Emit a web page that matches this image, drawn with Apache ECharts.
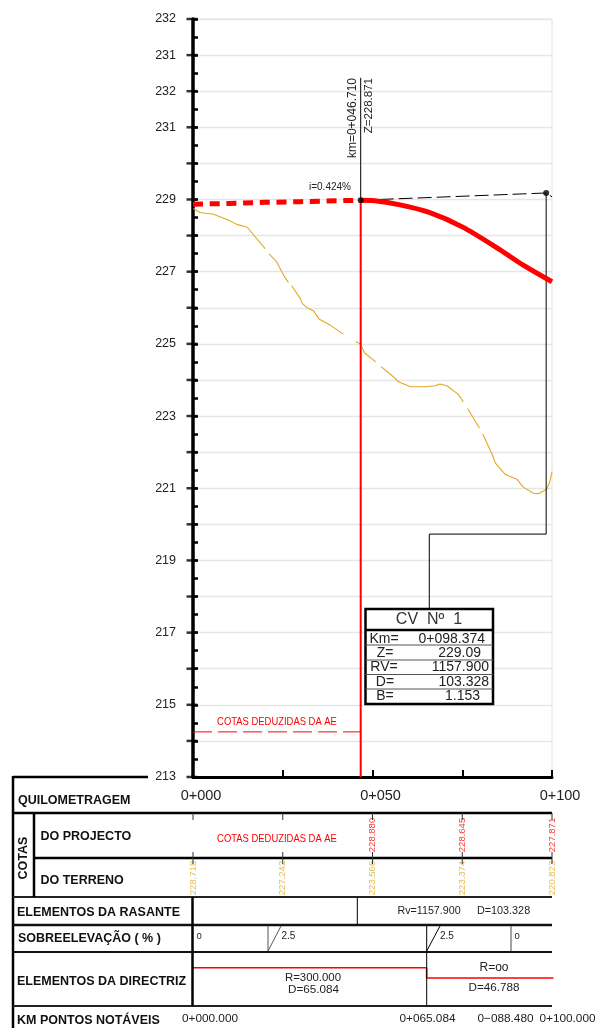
<!DOCTYPE html>
<html><head><meta charset="utf-8">
<style>html,body{margin:0;padding:0;background:#fff}#c{width:595px;height:1028px}</style>
<script src="https://cdn.jsdelivr.net/npm/echarts@6/dist/echarts.min.js"></script>
</head><body><div id="c"></div>
<script>
// ---- data ----
const yTickValues = [213,215,217,219,221,223,225,227,229,231,232,233,234];
const yTickLabels = ['213','215','217','219','221','223','225','227','229','231','232','231','232'];
const yMajorTicks = [213,214,215,216,217,218,219,220,221,222,223,224,225,226,227,228,229,230,231,232,233,234];
const kmTicks = [0,25,50,75,100];
const kmTickLabels = ['0+000','','0+050','','0+100'];
const tangentBefore = [[0,228.87],[10,228.89],[20,228.92],[30,228.94],[46.71,228.98]];
const verticalCurve = [[46.71,228.98],[50,228.97],[57.7,228.85],[65.8,228.64],[75,228.24],[85,227.64],[92,227.18],[100,226.72]];
const tangentExtended = [[46.71,228.98],[98.374,229.18],[100,229.07]];
const terrain = [[0.1,228.75],[1.9,228.64],[5.7,228.59],[9.8,228.43],[12.2,228.31],[15.1,228.23],[20.1,227.64],null,
 [21.2,227.49],[23.3,227.27],[25.6,226.84],[26.6,226.7],null,
 [27.5,226.61],[30,226.24],[30.4,226.12],[31.7,226.01],[33.5,225.92],[35.2,225.68],[38.2,225.52],[41.9,225.27],null,
 [45.3,225.06],[46.5,225.01],[47.9,224.74],[50.9,224.5],null,
 [52.4,224.37],[55.8,224.09],[57.2,223.95],[60.6,223.81],[64.6,223.81],[67.4,223.84],[68.8,223.89],[70.7,223.84],[73.9,223.6],[75.3,223.39],null,
 [76.5,223.21],[79.8,222.66],null,
 [80.7,222.5],[83.2,221.97],[84.3,221.69],[86.9,221.39],[90.2,221.25],[92,221.03],[94.8,220.86],[96.2,220.85],[98.5,220.97],[99.4,221.18],[100,221.46]];
const pviStation = [[46.71,213],[46.71,228.98]];
const pviLeader = [[46.71,228.98],[46.71,232.37]];
const cvLeader = [[98.374,229.18],[98.374,219.73],[65.82,219.73],[65.82,217.68]];
const aeLine = [[0,214.25],[46.71,214.25]];
const cvDots = [[46.71,228.98],[98.374,229.18]];
const terrainCotas = ['228.718','227.242','223.566','223.374','220.823'];
const projectCotas = ['','','228.880','228.645','227.871'];
const directrizStep = [[0,190.7],[65.084,190.7],[65.084,201],[100.4,201]];
const cvTitle = 'CV  Nº  1';
const cvKeys = ['Km=','Z=','RV=','D=','B='];
const cvVals = ['0+098.374','229.09','1157.900','103.328','1.153'];
const kmPoints = ['0+000.000','0+065.084','0−088.480','0+100.000'];
// ---- layout ----
const X0=193, PW=359, Y0=777, kx=k=>X0+k*PW/100;
const F='"Liberation Sans",Arial,sans-serif';
const g=[];
function ln(x1,y1,x2,y2,w,c){g.push({type:'line',silent:true,z:20,shape:{x1,y1,x2,y2},style:{stroke:c||'#000',lineWidth:w||1}});}
function tx(text,x,y,o){o=o||{};g.push({type:'text',silent:true,z:21,x,y,rotation:o.rot||0,scaleX:o.sx||1,style:{text,fill:o.c||'#222',
  font:(o.b?'bold ':'')+(o.s||10)+'px '+F,textAlign:o.a||'left',textVerticalAlign:'middle'}});}
// table frame
ln(13,777,148,777,2.5); ln(13,776,13,1028,2.5);
ln(13,813,552,813,2.5); ln(34,858,552,858,2.5); ln(13,897,552,897,2,'#222');
ln(13,925,552,925,2.5,'#111'); ln(13,952,552,952,2,'#111'); ln(13,1006,552,1006,2,'#222');
ln(34,813,34,897,2.5); ln(192.5,897,192.5,1006,2.5);
kmTicks.forEach(k=>{ln(kx(k),813,kx(k),820,1,'#333');ln(kx(k),852,kx(k),864,1,'#333');});
ln(357.3,897,357.3,925,1);
ln(268,926,268,951,1,'#555'); ln(268,951,281,926,1,'#555');
ln(426.7,926,426.7,1006,1); ln(426.7,951,440,926,1);
ln(511,926,511,951,1.2,'#666');
// table labels
const B={b:true,s:12.5,c:'#111'};
tx('QUILOMETRAGEM',18,800.5,B); tx('DO PROJECTO',40.5,837,B); tx('DO TERRENO',40.5,880.5,B);
tx('COTAS',23.5,858,{...B,rot:Math.PI/2,a:'center'});
tx('ELEMENTOS DA RASANTE',17,912.5,B); tx('SOBREELEVAÇÃO ( % )',18,938.5,B);
tx('ELEMENTOS DA DIRECTRIZ',17,982,B); tx('KM PONTOS NOTÁVEIS',17,1021,B);
tx('COTAS DEDUZIDAS DA AE',277,838.5,{c:'#f00',s:11.5,sx:0.82,a:'center'});
tx('Rv=1157.900',397.5,911,{s:10.7}); tx('D=103.328',477,911,{s:10.8});
tx('0',196.5,936,{s:9.5}); tx('2.5',281.5,936.5,{s:10}); tx('2.5',440,936.5,{s:10}); tx('0',514.5,936,{s:9.5});
tx('R=300.000',313,977.5,{s:11.4,a:'center'}); tx('D=65.084',313.5,990,{s:11.7,a:'center'});
tx('R=oo',494,968,{s:12,a:'center'}); tx('D=46.788',494,988,{s:11.7,a:'center'});
[[210,kmPoints[0]],[427.5,kmPoints[1]],[505.5,kmPoints[2]],[567.5,kmPoints[3]]].forEach(p=>tx(p[1],p[0],1019,{s:11.8,a:'center'}));
// plot annotations
tx('km=0+046.710',353,78,{s:12,rot:Math.PI/2,a:'right'});
tx('Z=228.871',369,78,{s:11.5,rot:Math.PI/2,a:'right'});
tx('i=0.424%',309,187,{s:10});
tx('COTAS DEDUZIDAS DA AE',277,722,{s:11.5,sx:0.82,c:'#f00',a:'center'});
// CV box
g.push({type:'rect',silent:true,z:19,shape:{x:365.5,y:609,width:127.5,height:95},style:{fill:'#fff',stroke:'#000',lineWidth:2.5}});
ln(365.5,630,493,630,2.5);
[645,660,674.5,689].forEach((y,i)=>ln(365.5,y,493,y,i?1:1.2,'#555'));
tx(cvTitle,429,619.5,{s:16,a:'center',c:'#333'});
const rowY=[639,653,667.5,682,696.5], keyX=[384,385,384,385,385], valX=[485,481,489,489,480];
cvKeys.forEach((k,i)=>{tx(k,keyX[i],rowY[i],{s:14,a:'center'});tx(cvVals[i],valX[i],rowY[i],{s:14,a:'right'});});

const option={
 animation:false,backgroundColor:'#fff',
 grid:[{left:X0,width:PW,top:19,height:758,show:true,borderColor:'#e2e2e2',borderWidth:1,backgroundColor:'transparent'},
       {left:X0,width:PW,top:Y0,height:251,show:false}],
 xAxis:[{gridIndex:0,type:'value',min:0,max:100,interval:25,splitLine:{show:false},
   axisLine:{onZero:false,lineStyle:{color:'#000',width:3}},
   axisTick:{inside:true,length:7,lineStyle:{color:'#000',width:2}},
   axisLabel:{showMinLabel:true,showMaxLabel:true,color:'#222',fontFamily:F,fontSize:14.5,margin:11,padding:[0,0,0,16],
     formatter:v=>kmTickLabels[kmTicks.indexOf(v)]||''}},
   {gridIndex:1,type:'value',min:0,max:100,show:false}],
 yAxis:[{gridIndex:0,type:'value',min:213,max:234,interval:1,
   axisLine:{onZero:false,lineStyle:{color:'#000',width:3.5}},
   axisTick:{show:false},
   splitLine:{show:true,lineStyle:{color:'#e6e6e6',width:1.3}},
   axisLabel:{showMinLabel:true,showMaxLabel:true,color:'#222',fontFamily:F,fontSize:12.5,margin:17,padding:[2,0,0,0],
     formatter:v=>{const i=yTickValues.indexOf(v);return i<0?'':yTickLabels[i];}}},
  {gridIndex:0,type:'value',min:213,max:234,interval:0.5,position:'left',
   axisLine:{show:false},axisTick:{inside:true,length:5,lineStyle:{color:'#000',width:2.5}},
   splitLine:{show:false},axisLabel:{show:false}},
  {gridIndex:1,type:'value',min:0,max:251,inverse:true,show:false}],
 series:[
  {type:'scatter',data:yMajorTicks.map(v=>[0,v]),symbol:'rect',symbolSize:[11,2.5],symbolOffset:[-1,0],clip:false,itemStyle:{color:'#000'},z:4},
  {type:'line',data:terrain,symbol:'none',connectNulls:false,lineStyle:{color:'#e2a920',width:1.1}},
  {type:'line',data:pviStation,symbol:'none',lineStyle:{color:'#f00',width:2}},
  {type:'line',data:pviLeader,symbol:'none',lineStyle:{color:'#000',width:1}},
  {type:'line',data:cvLeader,symbol:'none',lineStyle:{color:'#000',width:1}},
  {type:'line',data:tangentExtended,symbol:'none',lineStyle:{color:'#000',width:1,type:[14,5]}},
  {type:'line',data:aeLine,symbol:'none',lineStyle:{color:'#f00',width:1,type:[19,6]}},
  {type:'line',data:tangentBefore,symbol:'none',lineStyle:{color:'#f00',width:5,type:[10,6.7],cap:'butt'}},
  {type:'line',data:verticalCurve,symbol:'none',smooth:0.3,lineStyle:{color:'#f00',width:5}},
  {type:'scatter',data:cvDots,symbol:'circle',symbolSize:6,itemStyle:{color:'#000'},z:5},
  {type:'line',xAxisIndex:1,yAxisIndex:2,data:directrizStep,symbol:'none',clip:false,lineStyle:{color:'#f00',width:1.6}},
  {type:'scatter',xAxisIndex:1,yAxisIndex:2,symbolSize:0,clip:false,z:6,
   data:kmTicks.map((k,i)=>({value:[k,101],label:{formatter:terrainCotas[i]}})),
   label:{show:true,position:'inside',rotate:90,color:'#e3ad1e',fontFamily:F,fontSize:9.5}},
  {type:'scatter',xAxisIndex:1,yAxisIndex:2,symbolSize:0,clip:false,z:6,
   data:kmTicks.map((k,i)=>({value:[k,58],label:{formatter:projectCotas[i]}})),
   label:{show:true,position:'inside',rotate:90,color:'#f00',fontFamily:F,fontSize:9.5}}
 ],
 graphic:g
};
echarts.init(document.getElementById('c'),null,{renderer:'canvas'}).setOption(option);
</script></body></html>
